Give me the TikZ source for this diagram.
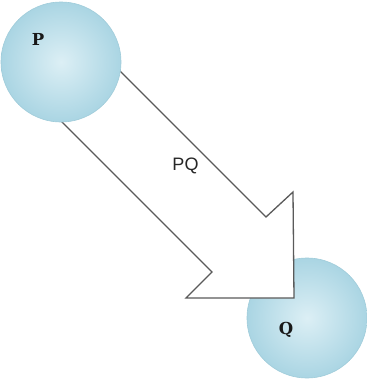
\documentclass[tikz,border=0pt]{standalone}
\usepackage{fontspec}
\newfontfamily\lblsans{Liberation Sans}
\newfontfamily\lblserif{DejaVu Serif}
\definecolor{ballin}{RGB}{220,239,245}
\definecolor{ballout}{RGB}{170,213,227}
\definecolor{ballrim}{RGB}{160,204,218}
\definecolor{arrline}{RGB}{90,90,90}
\tikzset{
	ball/.style={circle, minimum size=120pt, inner sep=0pt, draw=ballrim, line width=0.6pt,
		inner color=ballin, outer color=ballout},
	ptlbl/.style={font=\lblserif\bfseries\fontsize{16.5}{18}\selectfont, text=black!90},
}
\begin{document}
\begin{tikzpicture}[x=1pt, y=-1pt]
		\useasboundingbox (0,0) rectangle (367,381);
		% Kreis Q liegt unter dem Pfeil
		\node[ball] (Q) at (307,318) {};
		% Pfeil P -> Q
		\coordinate (s1) at (96,47);
		\coordinate (s2) at (42,102);
		\coordinate (n1) at (266,217);
		\coordinate (n2) at (212,272);
		\coordinate (h1) at (293,192);
		\coordinate (tip) at (294,298);
		\coordinate (h2) at (186,298);
		\draw[arrline, line width=1.3pt, fill=white, line join=miter]
			(s1) -- (n1) -- (h1) -- (tip) -- (h2) -- (n2) -- (s2) -- cycle;
		% Kreis P liegt ueber dem Pfeil
		\node[ball] (P) at (61,62) {};
		\node[ptlbl] (Plbl) at (38,39.5) {P};
		\node[ptlbl] (Qlbl) at (286,330) {Q};
		\node[font=\lblsans\fontsize{18}{20}\selectfont, text=black!85] (PQlbl) at (185.5,166) {PQ};
	\end{tikzpicture}
\end{document}
